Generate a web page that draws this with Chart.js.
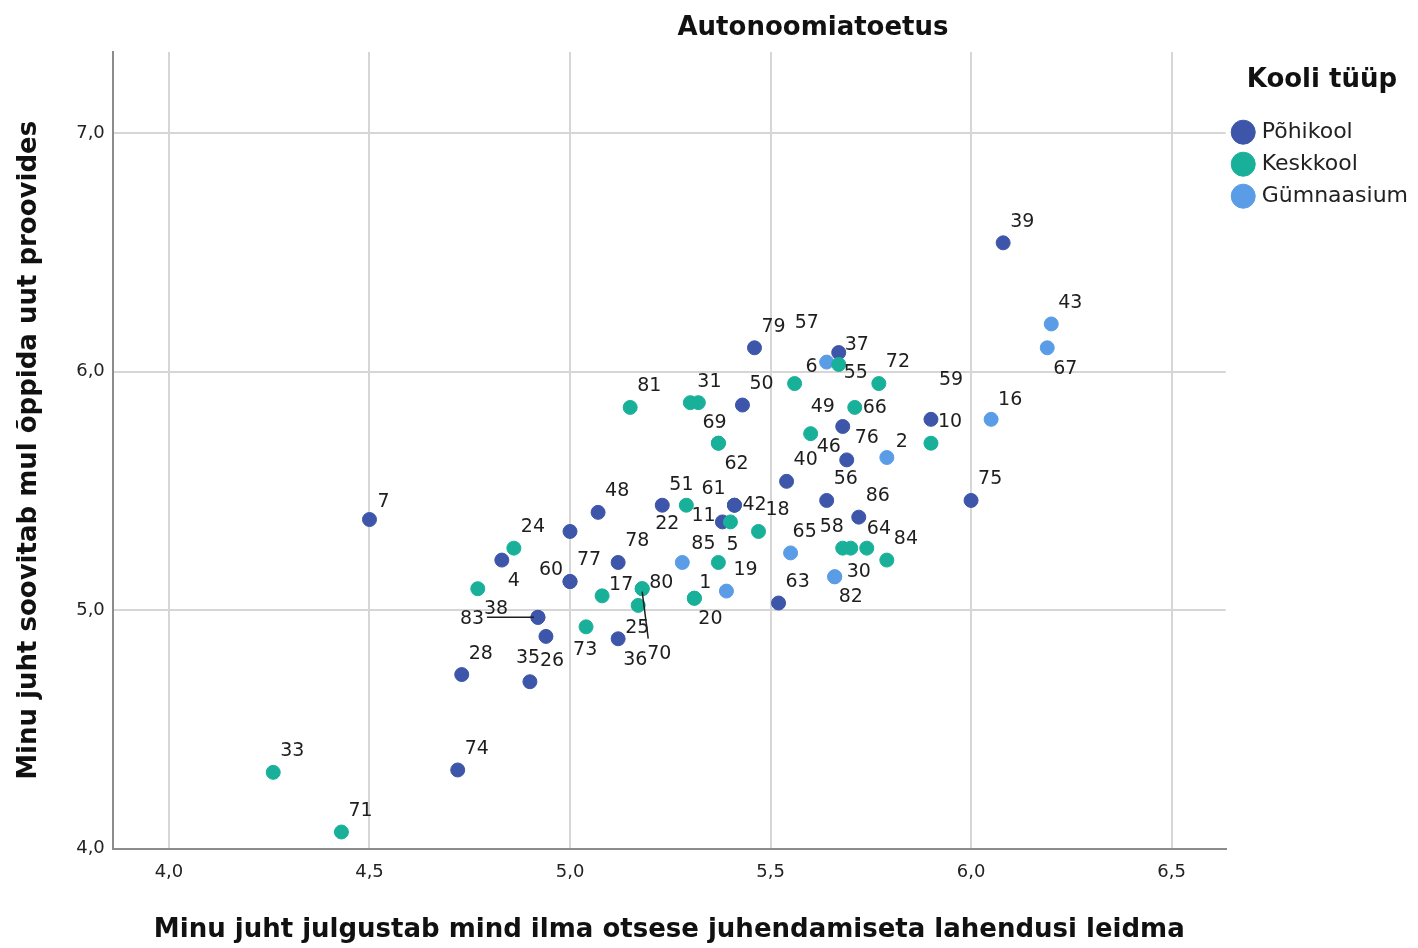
<!DOCTYPE html>
<html>
<head>
<meta charset="utf-8">
<script src="https://cdn.jsdelivr.net/npm/chart.js@4.4.0/dist/chart.umd.min.js"></script>
<style>
  html, body { margin: 0; padding: 0; background: #fff; }
</style>
</head>
<body>
<canvas id="chart" width="1418" height="948"></canvas>
<script>
// Põhikool
const pohiId = ['7', '39', '79', '37', '50', '59', '76', '46', '40', '56', '75', '86', '48', '22', '61', '42', '11', '', '4', '78', '60', '77', '38', '83', '26', '36', '28', '35', '74', '63'];
const pohiX = [4.50, 6.08, 5.46, 5.67, 5.43, 5.90, 5.68, 5.69, 5.54, 5.64, 6.00, 5.72, 5.07, 5.23, 5.41, 5.41, 5.38, 5.00, 4.83, 5.12, 5.00, 5.00, 4.92, 4.92, 4.94, 5.12, 4.73, 4.90, 4.72, 5.52];
const pohiY = [5.38, 6.54, 6.10, 6.08, 5.86, 5.80, 5.77, 5.63, 5.54, 5.46, 5.46, 5.39, 5.41, 5.44, 5.44, 5.44, 5.37, 5.33, 5.21, 5.20, 5.12, 5.12, 4.97, 4.97, 4.89, 4.88, 4.73, 4.70, 4.33, 5.03];

// Keskkool
const keskId = ['33', '71', '24', '', '17', '80', '70', '25', '73', '1', '20', '5', '51', '', '18', '81', '31', '', '69', '62', '6', '55', '72', '66', '49', '10', '58', '', '64', '84'];
const keskX = [4.26, 4.43, 4.86, 4.77, 5.08, 5.18, 5.18, 5.17, 5.04, 5.31, 5.31, 5.37, 5.29, 5.40, 5.47, 5.15, 5.30, 5.32, 5.37, 5.37, 5.56, 5.67, 5.77, 5.71, 5.60, 5.90, 5.68, 5.70, 5.74, 5.79];
const keskY = [4.32, 4.07, 5.26, 5.09, 5.06, 5.09, 5.09, 5.02, 4.93, 5.05, 5.05, 5.20, 5.44, 5.37, 5.33, 5.85, 5.87, 5.87, 5.70, 5.70, 5.95, 6.03, 5.95, 5.85, 5.74, 5.70, 5.26, 5.26, 5.26, 5.21];

// Gümnaasium
const gymId = ['43', '67', '16', '2', '57', '65', '85', '19', '30', '82'];
const gymX = [6.20, 6.19, 6.05, 5.79, 5.64, 5.55, 5.28, 5.39, 5.66, 5.66];
const gymY = [6.20, 6.10, 5.80, 5.64, 6.04, 5.24, 5.20, 5.08, 5.14, 5.14];

const xTicks = [4.0, 4.5, 5.0, 5.5, 6.0, 6.5];
const yTicks = [4.0, 5.0, 6.0, 7.0];

// label placement (px from the point), default is up-right
const defaultOffset = [7, -21];
const labelOffsets = {
  '7': [8, -17], '67': [6, 21], '16': [7, -19], '59': [8, -39], '2': [9, -15],
  '55': [5, 9], '37': [6, -7], '6': [11, -16], '57': [-32, -39], '69': [-16, -20],
  '62': [6, 21], '49': [0, -27], '66': [8, 1], '76': [12, 12], '46': [-30, -13],
  '42': [8, 0], '61': [-33, -16], '51': [-17, -20], '22': [-7, 19], '11': [-31, -6],
  '4': [6, 21], '60': [-31, -11], '5': [8, -17], '65': [2, -21], '58': [-23, -21],
  '64': [0, -19], '30': [12, -5], '82': [4, 20], '1': [5, -15], '20': [4, 21],
  '17': [7, -11], '80': [7, -6], '25': [-13, 23], '70': [5, 65], '36': [5, 21],
  '73': [-13, 23], '38': [-54, -8], '83': [-78, 2], '35': [-14, -24], '26': [-6, 25],
  '85': [9, -18]
};
const leaders = { '38': [[-4, 0], [-51, 0]], '70': [[0, 3], [6, 50]] };

const fontFam = "'DejaVu Sans', sans-serif";
const fmt = v => v.toFixed(1).replace('.', ',');
const toPts = (xs, ys) => xs.map((x, i) => ({ x: x, y: ys[i] }));
const idLists = [pohiId, keskId, gymId];

const pointLabels = {
  id: 'pointLabels',
  afterDatasetsDraw(chart) {
    const ctx = chart.ctx;
    ctx.save();
    ctx.font = '19px ' + fontFam;
    ctx.fillStyle = '#1e1e1e';
    ctx.strokeStyle = '#1e1e1e';
    ctx.lineWidth = 1.5;
    ctx.textBaseline = 'middle';
    ctx.textAlign = 'left';
    chart.data.datasets.forEach((ds, di) => {
      const meta = chart.getDatasetMeta(di);
      meta.data.forEach((pt, i) => {
        const id = idLists[di][i];
        if (!id) return;
        const off = labelOffsets[id] || defaultOffset;
        if (leaders[id]) {
          const [a, b] = leaders[id];
          ctx.beginPath();
          ctx.moveTo(pt.x + a[0], pt.y + a[1]);
          ctx.lineTo(pt.x + b[0], pt.y + b[1]);
          ctx.stroke();
        }
        ctx.fillText(id, pt.x + off[0], pt.y + off[1]);
      });
    });
    ctx.restore();
  }
};

const plotTitle = {
  id: 'plotTitle',
  afterDraw(chart) {
    const ctx = chart.ctx;
    ctx.save();
    ctx.font = 'bold 26px ' + fontFam;
    ctx.fillStyle = '#111';
    ctx.textAlign = 'center';
    ctx.textBaseline = 'middle';
    ctx.fillText('Autonoomiatoetus', 813, 28);
    ctx.restore();
  }
};

new Chart(document.getElementById('chart'), {
  type: 'scatter',
  data: {
    datasets: [
      { label: 'Põhikool', data: toPts(pohiX, pohiY), backgroundColor: '#3d56a9', borderColor: '#3d56a9', order: 1 },
      { label: 'Keskkool', data: toPts(keskX, keskY), backgroundColor: '#19b09a', borderColor: '#19b09a', order: 0 },
      { label: 'Gümnaasium', data: toPts(gymX, gymY), backgroundColor: '#5a9de6', borderColor: '#5a9de6', order: 2 }
    ]
  },
  options: {
    responsive: false,
    animation: false,
    devicePixelRatio: 1,
    layout: { padding: { top: 52, left: 0, right: 0, bottom: 0 } },
    elements: { point: { radius: 7, borderWidth: 1, hoverRadius: 7 } },
    plugins: {
      tooltip: { enabled: false },
      legend: {
        position: 'right',
        align: 'start',
        title: {
          display: true,
          text: 'Kooli tüüp',
          color: '#111',
          font: { family: fontFam, size: 26, weight: 'bold' },
          padding: { top: 15, bottom: 13 }
        },
        labels: {
          sort: (a, b) => a.datasetIndex - b.datasetIndex,
          usePointStyle: true,
          pointStyle: 'circle',
          boxWidth: 15,
          boxHeight: 17,
          padding: 10,
          color: '#222',
          font: { family: fontFam, size: 22 }
        }
      }
    },
    scales: {
      x: {
        type: 'linear',
        min: 3.86,
        max: 6.635,
        afterBuildTicks: s => { s.ticks = xTicks.map(v => ({ value: v })); },
        ticks: { callback: v => fmt(v), padding: 13, color: '#222', font: { family: fontFam, size: 18 } },
        grid: { color: '#d6d6d6', lineWidth: 2, drawTicks: false },
        border: { color: '#8c8c8c', width: 2 },
        title: {
          display: true,
          text: 'Minu juht julgustab mind ilma otsese juhendamiseta lahendusi leidma',
          color: '#111',
          font: { family: fontFam, size: 26, weight: 'bold' },
          padding: { top: 18, bottom: 2.5 }
        }
      },
      y: {
        type: 'linear',
        min: 4.0,
        max: 7.34,
        afterBuildTicks: s => { s.ticks = yTicks.map(v => ({ value: v })); },
        ticks: { callback: v => fmt(v), padding: 8, color: '#222', font: { family: fontFam, size: 18 } },
        grid: { color: '#d6d6d6', lineWidth: 2, drawTicks: false },
        border: { color: '#8c8c8c', width: 2 },
        title: {
          display: true,
          text: 'Minu juht soovitab mul õppida uut proovides',
          color: '#111',
          font: { family: fontFam, size: 26, weight: 'bold' },
          padding: { top: 14, bottom: 23 }
        }
      }
    }
  },
  plugins: [pointLabels, plotTitle]
});
</script>
</body>
</html>
